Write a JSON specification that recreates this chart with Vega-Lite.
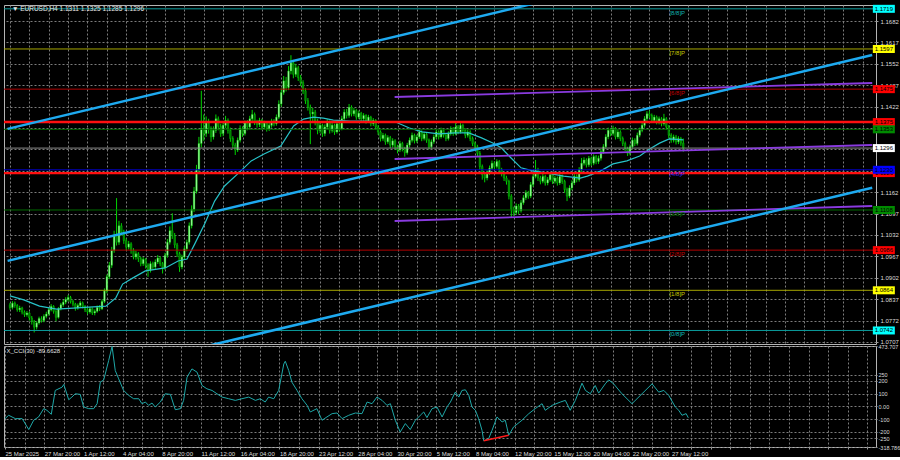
{
"$schema":"https://vega.github.io/schema/vega-lite/v6.json",
"background":"#000000",
"padding":{"left":2,"top":4,"right":0,"bottom":0},
"spacing":2,
"bounds":"flush",
"config":{
 "view":{"stroke":"#b4b4b4","strokeWidth":1},
 "font":"Liberation Sans",
 "axis":{"labelFont":"Liberation Sans","labelFontSize":6,"labelColor":"#dcdcdc","gridColor":"#7c7c7c","gridDash":[2,2],"gridWidth":1,"tickColor":"#9a9a9a","tickSize":2,"labelPadding":2,"domain":false,"labelOverlap":false,"labelBound":false,"tickCount":500}
},
"datasets":{
"candles":[
{"i":0,"o":1.0820,"h":1.0826,"l":1.0805,"c":1.0812},
{"i":1,"o":1.0812,"h":1.0831,"l":1.0806,"c":1.0825},
{"i":2,"o":1.0825,"h":1.0830,"l":1.0811,"c":1.0818},
{"i":3,"o":1.0818,"h":1.0822,"l":1.0799,"c":1.0805},
{"i":4,"o":1.0805,"h":1.0817,"l":1.0798,"c":1.0810},
{"i":5,"o":1.0810,"h":1.0814,"l":1.0791,"c":1.0798},
{"i":6,"o":1.0798,"h":1.0803,"l":1.0783,"c":1.0790},
{"i":7,"o":1.0790,"h":1.0801,"l":1.0784,"c":1.0795},
{"i":8,"o":1.0795,"h":1.0799,"l":1.0772,"c":1.0780},
{"i":9,"o":1.0780,"h":1.0786,"l":1.0760,"c":1.0770},
{"i":10,"o":1.0770,"h":1.0774,"l":1.0736,"c":1.0752},
{"i":11,"o":1.0752,"h":1.0770,"l":1.0745,"c":1.0765},
{"i":12,"o":1.0765,"h":1.0784,"l":1.0760,"c":1.0778},
{"i":13,"o":1.0778,"h":1.0785,"l":1.0766,"c":1.0772},
{"i":14,"o":1.0772,"h":1.0791,"l":1.0767,"c":1.0785},
{"i":15,"o":1.0785,"h":1.0799,"l":1.0779,"c":1.0792},
{"i":16,"o":1.0792,"h":1.0812,"l":1.0787,"c":1.0805},
{"i":17,"o":1.0805,"h":1.0822,"l":1.0800,"c":1.0815},
{"i":18,"o":1.0815,"h":1.0819,"l":1.0793,"c":1.0800},
{"i":19,"o":1.0800,"h":1.0804,"l":1.0770,"c":1.0782},
{"i":20,"o":1.0782,"h":1.0813,"l":1.0778,"c":1.0808},
{"i":21,"o":1.0808,"h":1.0826,"l":1.0803,"c":1.0820},
{"i":22,"o":1.0820,"h":1.0835,"l":1.0814,"c":1.0828},
{"i":23,"o":1.0828,"h":1.0843,"l":1.0822,"c":1.0836},
{"i":24,"o":1.0836,"h":1.0850,"l":1.0830,"c":1.0842},
{"i":25,"o":1.0842,"h":1.0847,"l":1.0824,"c":1.0830},
{"i":26,"o":1.0830,"h":1.0835,"l":1.0815,"c":1.0822},
{"i":27,"o":1.0822,"h":1.0826,"l":1.0802,"c":1.0810},
{"i":28,"o":1.0810,"h":1.0824,"l":1.0805,"c":1.0818},
{"i":29,"o":1.0818,"h":1.0832,"l":1.0813,"c":1.0826},
{"i":30,"o":1.0826,"h":1.0830,"l":1.0809,"c":1.0815},
{"i":31,"o":1.0815,"h":1.0819,"l":1.0798,"c":1.0805},
{"i":32,"o":1.0805,"h":1.0810,"l":1.0791,"c":1.0798},
{"i":33,"o":1.0798,"h":1.0814,"l":1.0793,"c":1.0808},
{"i":34,"o":1.0808,"h":1.0812,"l":1.0789,"c":1.0795},
{"i":35,"o":1.0795,"h":1.0806,"l":1.0788,"c":1.0800},
{"i":36,"o":1.0800,"h":1.0818,"l":1.0796,"c":1.0812},
{"i":37,"o":1.0812,"h":1.0819,"l":1.0801,"c":1.0808},
{"i":38,"o":1.0808,"h":1.0836,"l":1.0804,"c":1.0830},
{"i":39,"o":1.0830,"h":1.0870,"l":1.0825,"c":1.0862},
{"i":40,"o":1.0862,"h":1.0912,"l":1.0855,"c":1.0905},
{"i":41,"o":1.0905,"h":1.0950,"l":1.0898,"c":1.0940},
{"i":42,"o":1.0940,"h":1.0996,"l":1.0932,"c":1.0985},
{"i":43,"o":1.0985,"h":1.1045,"l":1.0978,"c":1.1030},
{"i":44,"o":1.1030,"h":1.1144,"l":1.1000,"c":1.1010},
{"i":45,"o":1.1010,"h":1.1075,"l":1.1002,"c":1.1060},
{"i":46,"o":1.1060,"h":1.1068,"l":1.1030,"c":1.1040},
{"i":47,"o":1.1040,"h":1.1048,"l":1.1005,"c":1.1015},
{"i":48,"o":1.1015,"h":1.1022,"l":1.0985,"c":1.0995},
{"i":49,"o":1.0995,"h":1.1014,"l":1.0988,"c":1.1005},
{"i":50,"o":1.1005,"h":1.1010,"l":1.0975,"c":1.0985},
{"i":51,"o":1.0985,"h":1.0992,"l":1.0958,"c":1.0965},
{"i":52,"o":1.0965,"h":1.0984,"l":1.0957,"c":1.0975},
{"i":53,"o":1.0975,"h":1.0980,"l":1.0950,"c":1.0960},
{"i":54,"o":1.0960,"h":1.0966,"l":1.0937,"c":1.0945},
{"i":55,"o":1.0945,"h":1.0965,"l":1.0938,"c":1.0958},
{"i":56,"o":1.0958,"h":1.0962,"l":1.0930,"c":1.0940},
{"i":57,"o":1.0940,"h":1.0946,"l":1.0905,"c":1.0925},
{"i":58,"o":1.0925,"h":1.0952,"l":1.0918,"c":1.0945},
{"i":59,"o":1.0945,"h":1.0951,"l":1.0926,"c":1.0935},
{"i":60,"o":1.0935,"h":1.0958,"l":1.0929,"c":1.0950},
{"i":61,"o":1.0950,"h":1.0971,"l":1.0944,"c":1.0962},
{"i":62,"o":1.0962,"h":1.0967,"l":1.0937,"c":1.0945},
{"i":63,"o":1.0945,"h":1.0950,"l":1.0915,"c":1.0932},
{"i":64,"o":1.0932,"h":1.0978,"l":1.0926,"c":1.0970},
{"i":65,"o":1.0970,"h":1.1020,"l":1.0963,"c":1.1010},
{"i":66,"o":1.1010,"h":1.1058,"l":1.1003,"c":1.1045},
{"i":67,"o":1.1045,"h":1.1098,"l":1.1020,"c":1.1030},
{"i":68,"o":1.1030,"h":1.1038,"l":1.0992,"c":1.1002},
{"i":69,"o":1.1002,"h":1.1008,"l":1.0965,"c":1.0975},
{"i":70,"o":1.0975,"h":1.0981,"l":1.0920,"c":1.0935},
{"i":71,"o":1.0935,"h":1.0972,"l":1.0928,"c":1.0965},
{"i":72,"o":1.0965,"h":1.0998,"l":1.0958,"c":1.0990},
{"i":73,"o":1.0990,"h":1.1018,"l":1.0982,"c":1.1010},
{"i":74,"o":1.1010,"h":1.1070,"l":1.1003,"c":1.1060},
{"i":75,"o":1.1060,"h":1.1122,"l":1.1052,"c":1.1110},
{"i":76,"o":1.1110,"h":1.1178,"l":1.1102,"c":1.1165},
{"i":77,"o":1.1165,"h":1.1245,"l":1.1158,"c":1.1230},
{"i":78,"o":1.1230,"h":1.1330,"l":1.1222,"c":1.1310},
{"i":79,"o":1.1310,"h":1.1470,"l":1.1298,"c":1.1355},
{"i":80,"o":1.1355,"h":1.1398,"l":1.1318,"c":1.1340},
{"i":81,"o":1.1340,"h":1.1392,"l":1.1330,"c":1.1372},
{"i":82,"o":1.1372,"h":1.1385,"l":1.1340,"c":1.1355},
{"i":83,"o":1.1355,"h":1.1362,"l":1.1315,"c":1.1330},
{"i":84,"o":1.1330,"h":1.1362,"l":1.1322,"c":1.1350},
{"i":85,"o":1.1350,"h":1.1398,"l":1.1342,"c":1.1385},
{"i":86,"o":1.1385,"h":1.1392,"l":1.1350,"c":1.1362},
{"i":87,"o":1.1362,"h":1.1370,"l":1.1330,"c":1.1340},
{"i":88,"o":1.1340,"h":1.1376,"l":1.1332,"c":1.1365},
{"i":89,"o":1.1365,"h":1.1394,"l":1.1356,"c":1.1380},
{"i":90,"o":1.1380,"h":1.1386,"l":1.1340,"c":1.1350},
{"i":91,"o":1.1350,"h":1.1358,"l":1.1315,"c":1.1325},
{"i":92,"o":1.1325,"h":1.1332,"l":1.1295,"c":1.1305},
{"i":93,"o":1.1305,"h":1.1312,"l":1.1275,"c":1.1290},
{"i":94,"o":1.1290,"h":1.1328,"l":1.1284,"c":1.1320},
{"i":95,"o":1.1320,"h":1.1365,"l":1.1313,"c":1.1355},
{"i":96,"o":1.1355,"h":1.1362,"l":1.1330,"c":1.1340},
{"i":97,"o":1.1340,"h":1.1380,"l":1.1334,"c":1.1372},
{"i":98,"o":1.1372,"h":1.1381,"l":1.1350,"c":1.1360},
{"i":99,"o":1.1360,"h":1.1394,"l":1.1352,"c":1.1385},
{"i":100,"o":1.1385,"h":1.1412,"l":1.1378,"c":1.1398},
{"i":101,"o":1.1398,"h":1.1404,"l":1.1366,"c":1.1375},
{"i":102,"o":1.1375,"h":1.1382,"l":1.1358,"c":1.1368},
{"i":103,"o":1.1368,"h":1.1388,"l":1.1360,"c":1.1380},
{"i":104,"o":1.1380,"h":1.1385,"l":1.1352,"c":1.1360},
{"i":105,"o":1.1360,"h":1.1379,"l":1.1354,"c":1.1372},
{"i":106,"o":1.1372,"h":1.1377,"l":1.1346,"c":1.1355},
{"i":107,"o":1.1355,"h":1.1372,"l":1.1348,"c":1.1365},
{"i":108,"o":1.1365,"h":1.1385,"l":1.1358,"c":1.1378},
{"i":109,"o":1.1378,"h":1.1384,"l":1.1362,"c":1.1370},
{"i":110,"o":1.1370,"h":1.1398,"l":1.1364,"c":1.1390},
{"i":111,"o":1.1390,"h":1.1441,"l":1.1384,"c":1.1430},
{"i":112,"o":1.1430,"h":1.1478,"l":1.1422,"c":1.1465},
{"i":113,"o":1.1465,"h":1.1515,"l":1.1458,"c":1.1500},
{"i":114,"o":1.1500,"h":1.1512,"l":1.1468,"c":1.1480},
{"i":115,"o":1.1480,"h":1.1545,"l":1.1472,"c":1.1530},
{"i":116,"o":1.1530,"h":1.1578,"l":1.1520,"c":1.1555},
{"i":117,"o":1.1555,"h":1.1564,"l":1.1508,"c":1.1520},
{"i":118,"o":1.1520,"h":1.1552,"l":1.1512,"c":1.1540},
{"i":119,"o":1.1540,"h":1.1546,"l":1.1500,"c":1.1510},
{"i":120,"o":1.1510,"h":1.1518,"l":1.1484,"c":1.1495},
{"i":121,"o":1.1495,"h":1.1502,"l":1.1460,"c":1.1470},
{"i":122,"o":1.1470,"h":1.1478,"l":1.1430,"c":1.1440},
{"i":123,"o":1.1440,"h":1.1448,"l":1.1410,"c":1.1420},
{"i":124,"o":1.1420,"h":1.1428,"l":1.1308,"c":1.1400},
{"i":125,"o":1.1400,"h":1.1418,"l":1.1375,"c":1.1405},
{"i":126,"o":1.1405,"h":1.1412,"l":1.1365,"c":1.1378},
{"i":127,"o":1.1378,"h":1.1385,"l":1.1338,"c":1.1350},
{"i":128,"o":1.1350,"h":1.1375,"l":1.1342,"c":1.1365},
{"i":129,"o":1.1365,"h":1.1370,"l":1.1330,"c":1.1340},
{"i":130,"o":1.1340,"h":1.1368,"l":1.1332,"c":1.1360},
{"i":131,"o":1.1360,"h":1.1384,"l":1.1352,"c":1.1375},
{"i":132,"o":1.1375,"h":1.1380,"l":1.1340,"c":1.1350},
{"i":133,"o":1.1350,"h":1.1374,"l":1.1343,"c":1.1365},
{"i":134,"o":1.1365,"h":1.1370,"l":1.1336,"c":1.1345},
{"i":135,"o":1.1345,"h":1.1378,"l":1.1340,"c":1.1370},
{"i":136,"o":1.1370,"h":1.1376,"l":1.1346,"c":1.1355},
{"i":137,"o":1.1355,"h":1.1394,"l":1.1350,"c":1.1385},
{"i":138,"o":1.1385,"h":1.1414,"l":1.1378,"c":1.1405},
{"i":139,"o":1.1405,"h":1.1415,"l":1.1386,"c":1.1395},
{"i":140,"o":1.1395,"h":1.1430,"l":1.1388,"c":1.1420},
{"i":141,"o":1.1420,"h":1.1426,"l":1.1392,"c":1.1400},
{"i":142,"o":1.1400,"h":1.1418,"l":1.1393,"c":1.1410},
{"i":143,"o":1.1410,"h":1.1415,"l":1.1382,"c":1.1390},
{"i":144,"o":1.1390,"h":1.1410,"l":1.1384,"c":1.1402},
{"i":145,"o":1.1402,"h":1.1406,"l":1.1377,"c":1.1385},
{"i":146,"o":1.1385,"h":1.1402,"l":1.1378,"c":1.1395},
{"i":147,"o":1.1395,"h":1.1399,"l":1.1370,"c":1.1378},
{"i":148,"o":1.1378,"h":1.1397,"l":1.1372,"c":1.1390},
{"i":149,"o":1.1390,"h":1.1394,"l":1.1362,"c":1.1370},
{"i":150,"o":1.1370,"h":1.1387,"l":1.1363,"c":1.1380},
{"i":151,"o":1.1380,"h":1.1384,"l":1.1352,"c":1.1360},
{"i":152,"o":1.1360,"h":1.1366,"l":1.1336,"c":1.1345},
{"i":153,"o":1.1345,"h":1.1350,"l":1.1316,"c":1.1325},
{"i":154,"o":1.1325,"h":1.1342,"l":1.1318,"c":1.1335},
{"i":155,"o":1.1335,"h":1.1340,"l":1.1306,"c":1.1315},
{"i":156,"o":1.1315,"h":1.1335,"l":1.1309,"c":1.1328},
{"i":157,"o":1.1328,"h":1.1333,"l":1.1296,"c":1.1305},
{"i":158,"o":1.1305,"h":1.1326,"l":1.1298,"c":1.1318},
{"i":159,"o":1.1318,"h":1.1323,"l":1.1291,"c":1.1300},
{"i":160,"o":1.1300,"h":1.1306,"l":1.1280,"c":1.1290},
{"i":161,"o":1.1290,"h":1.1318,"l":1.1284,"c":1.1310},
{"i":162,"o":1.1310,"h":1.1315,"l":1.1286,"c":1.1295},
{"i":163,"o":1.1295,"h":1.1300,"l":1.1270,"c":1.1282},
{"i":164,"o":1.1282,"h":1.1312,"l":1.1276,"c":1.1305},
{"i":165,"o":1.1305,"h":1.1328,"l":1.1298,"c":1.1320},
{"i":166,"o":1.1320,"h":1.1343,"l":1.1313,"c":1.1335},
{"i":167,"o":1.1335,"h":1.1340,"l":1.1310,"c":1.1318},
{"i":168,"o":1.1318,"h":1.1337,"l":1.1312,"c":1.1330},
{"i":169,"o":1.1330,"h":1.1353,"l":1.1324,"c":1.1345},
{"i":170,"o":1.1345,"h":1.1350,"l":1.1317,"c":1.1325},
{"i":171,"o":1.1325,"h":1.1345,"l":1.1319,"c":1.1338},
{"i":172,"o":1.1338,"h":1.1343,"l":1.1312,"c":1.1320},
{"i":173,"o":1.1320,"h":1.1325,"l":1.1292,"c":1.1300},
{"i":174,"o":1.1300,"h":1.1322,"l":1.1294,"c":1.1315},
{"i":175,"o":1.1315,"h":1.1337,"l":1.1309,"c":1.1330},
{"i":176,"o":1.1330,"h":1.1352,"l":1.1324,"c":1.1345},
{"i":177,"o":1.1345,"h":1.1350,"l":1.1322,"c":1.1330},
{"i":178,"o":1.1330,"h":1.1358,"l":1.1325,"c":1.1350},
{"i":179,"o":1.1350,"h":1.1355,"l":1.1328,"c":1.1335},
{"i":180,"o":1.1335,"h":1.1340,"l":1.1317,"c":1.1325},
{"i":181,"o":1.1325,"h":1.1347,"l":1.1319,"c":1.1340},
{"i":182,"o":1.1340,"h":1.1362,"l":1.1334,"c":1.1355},
{"i":183,"o":1.1355,"h":1.1360,"l":1.1333,"c":1.1340},
{"i":184,"o":1.1340,"h":1.1372,"l":1.1335,"c":1.1360},
{"i":185,"o":1.1360,"h":1.1366,"l":1.1338,"c":1.1345},
{"i":186,"o":1.1345,"h":1.1372,"l":1.1340,"c":1.1365},
{"i":187,"o":1.1365,"h":1.1370,"l":1.1342,"c":1.1350},
{"i":188,"o":1.1350,"h":1.1356,"l":1.1326,"c":1.1335},
{"i":189,"o":1.1335,"h":1.1352,"l":1.1328,"c":1.1345},
{"i":190,"o":1.1345,"h":1.1350,"l":1.1317,"c":1.1325},
{"i":191,"o":1.1325,"h":1.1331,"l":1.1302,"c":1.1310},
{"i":192,"o":1.1310,"h":1.1316,"l":1.1290,"c":1.1300},
{"i":193,"o":1.1300,"h":1.1306,"l":1.1270,"c":1.1280},
{"i":194,"o":1.1280,"h":1.1287,"l":1.1230,"c":1.1240},
{"i":195,"o":1.1240,"h":1.1246,"l":1.1200,"c":1.1215},
{"i":196,"o":1.1215,"h":1.1222,"l":1.1192,"c":1.1205},
{"i":197,"o":1.1205,"h":1.1228,"l":1.1198,"c":1.1220},
{"i":198,"o":1.1220,"h":1.1243,"l":1.1214,"c":1.1235},
{"i":199,"o":1.1235,"h":1.1258,"l":1.1229,"c":1.1250},
{"i":200,"o":1.1250,"h":1.1256,"l":1.1232,"c":1.1240},
{"i":201,"o":1.1240,"h":1.1262,"l":1.1234,"c":1.1255},
{"i":202,"o":1.1255,"h":1.1260,"l":1.1222,"c":1.1230},
{"i":203,"o":1.1230,"h":1.1236,"l":1.1210,"c":1.1218},
{"i":204,"o":1.1218,"h":1.1224,"l":1.1196,"c":1.1205},
{"i":205,"o":1.1205,"h":1.1212,"l":1.1185,"c":1.1195},
{"i":206,"o":1.1195,"h":1.1200,"l":1.1140,"c":1.1150},
{"i":207,"o":1.1150,"h":1.1156,"l":1.1085,"c":1.1110},
{"i":208,"o":1.1110,"h":1.1118,"l":1.1090,"c":1.1100},
{"i":209,"o":1.1100,"h":1.1128,"l":1.1094,"c":1.1120},
{"i":210,"o":1.1120,"h":1.1126,"l":1.1096,"c":1.1105},
{"i":211,"o":1.1105,"h":1.1138,"l":1.1100,"c":1.1130},
{"i":212,"o":1.1130,"h":1.1153,"l":1.1124,"c":1.1145},
{"i":213,"o":1.1145,"h":1.1168,"l":1.1138,"c":1.1160},
{"i":214,"o":1.1160,"h":1.1166,"l":1.1142,"c":1.1150},
{"i":215,"o":1.1150,"h":1.1193,"l":1.1144,"c":1.1185},
{"i":216,"o":1.1185,"h":1.1220,"l":1.1178,"c":1.1210},
{"i":217,"o":1.1210,"h":1.1260,"l":1.1204,"c":1.1230},
{"i":218,"o":1.1230,"h":1.1236,"l":1.1196,"c":1.1205},
{"i":219,"o":1.1205,"h":1.1212,"l":1.1186,"c":1.1195},
{"i":220,"o":1.1195,"h":1.1218,"l":1.1189,"c":1.1210},
{"i":221,"o":1.1210,"h":1.1215,"l":1.1182,"c":1.1190},
{"i":222,"o":1.1190,"h":1.1208,"l":1.1183,"c":1.1200},
{"i":223,"o":1.1200,"h":1.1222,"l":1.1194,"c":1.1215},
{"i":224,"o":1.1215,"h":1.1220,"l":1.1187,"c":1.1195},
{"i":225,"o":1.1195,"h":1.1212,"l":1.1188,"c":1.1205},
{"i":226,"o":1.1205,"h":1.1210,"l":1.1182,"c":1.1190},
{"i":227,"o":1.1190,"h":1.1218,"l":1.1184,"c":1.1210},
{"i":228,"o":1.1210,"h":1.1216,"l":1.1187,"c":1.1195},
{"i":229,"o":1.1195,"h":1.1200,"l":1.1160,"c":1.1170},
{"i":230,"o":1.1170,"h":1.1176,"l":1.1135,"c":1.1150},
{"i":231,"o":1.1150,"h":1.1183,"l":1.1144,"c":1.1175},
{"i":232,"o":1.1175,"h":1.1198,"l":1.1168,"c":1.1190},
{"i":233,"o":1.1190,"h":1.1218,"l":1.1184,"c":1.1210},
{"i":234,"o":1.1210,"h":1.1216,"l":1.1192,"c":1.1200},
{"i":235,"o":1.1200,"h":1.1238,"l":1.1194,"c":1.1230},
{"i":236,"o":1.1230,"h":1.1266,"l":1.1224,"c":1.1250},
{"i":237,"o":1.1250,"h":1.1268,"l":1.1243,"c":1.1260},
{"i":238,"o":1.1260,"h":1.1265,"l":1.1237,"c":1.1245},
{"i":239,"o":1.1245,"h":1.1272,"l":1.1239,"c":1.1265},
{"i":240,"o":1.1265,"h":1.1270,"l":1.1242,"c":1.1250},
{"i":241,"o":1.1250,"h":1.1277,"l":1.1244,"c":1.1270},
{"i":242,"o":1.1270,"h":1.1275,"l":1.1247,"c":1.1255},
{"i":243,"o":1.1255,"h":1.1273,"l":1.1248,"c":1.1265},
{"i":244,"o":1.1265,"h":1.1293,"l":1.1258,"c":1.1285},
{"i":245,"o":1.1285,"h":1.1308,"l":1.1278,"c":1.1300},
{"i":246,"o":1.1300,"h":1.1338,"l":1.1294,"c":1.1330},
{"i":247,"o":1.1330,"h":1.1358,"l":1.1323,"c":1.1350},
{"i":248,"o":1.1350,"h":1.1357,"l":1.1332,"c":1.1340},
{"i":249,"o":1.1340,"h":1.1364,"l":1.1334,"c":1.1355},
{"i":250,"o":1.1355,"h":1.1360,"l":1.1322,"c":1.1330},
{"i":251,"o":1.1330,"h":1.1352,"l":1.1324,"c":1.1345},
{"i":252,"o":1.1345,"h":1.1350,"l":1.1317,"c":1.1325},
{"i":253,"o":1.1325,"h":1.1331,"l":1.1302,"c":1.1310},
{"i":254,"o":1.1310,"h":1.1316,"l":1.1287,"c":1.1295},
{"i":255,"o":1.1295,"h":1.1300,"l":1.1272,"c":1.1280},
{"i":256,"o":1.1280,"h":1.1307,"l":1.1274,"c":1.1300},
{"i":257,"o":1.1300,"h":1.1328,"l":1.1294,"c":1.1320},
{"i":258,"o":1.1320,"h":1.1326,"l":1.1302,"c":1.1310},
{"i":259,"o":1.1310,"h":1.1343,"l":1.1304,"c":1.1335},
{"i":260,"o":1.1335,"h":1.1358,"l":1.1329,"c":1.1350},
{"i":261,"o":1.1350,"h":1.1373,"l":1.1344,"c":1.1365},
{"i":262,"o":1.1365,"h":1.1393,"l":1.1358,"c":1.1385},
{"i":263,"o":1.1385,"h":1.1408,"l":1.1378,"c":1.1400},
{"i":264,"o":1.1400,"h":1.1410,"l":1.1387,"c":1.1395},
{"i":265,"o":1.1395,"h":1.1401,"l":1.1372,"c":1.1380},
{"i":266,"o":1.1380,"h":1.1397,"l":1.1373,"c":1.1390},
{"i":267,"o":1.1390,"h":1.1395,"l":1.1368,"c":1.1375},
{"i":268,"o":1.1375,"h":1.1392,"l":1.1368,"c":1.1385},
{"i":269,"o":1.1385,"h":1.1390,"l":1.1362,"c":1.1370},
{"i":270,"o":1.1370,"h":1.1400,"l":1.1364,"c":1.1385},
{"i":271,"o":1.1385,"h":1.1390,"l":1.1352,"c":1.1360},
{"i":272,"o":1.1360,"h":1.1366,"l":1.1326,"c":1.1335},
{"i":273,"o":1.1335,"h":1.1341,"l":1.1312,"c":1.1320},
{"i":274,"o":1.1320,"h":1.1337,"l":1.1313,"c":1.1330},
{"i":275,"o":1.1330,"h":1.1336,"l":1.1307,"c":1.1315},
{"i":276,"o":1.1315,"h":1.1332,"l":1.1308,"c":1.1325},
{"i":277,"o":1.1325,"h":1.1330,"l":1.1303,"c":1.1311},
{"i":278,"o":1.1311,"h":1.1325,"l":1.1285,"c":1.1296}
],
"ma":[
{"i":0,"v":1.0847},{"i":5.7,"v":1.0835},{"i":12.2,"v":1.0816},{"i":19.2,"v":1.0807},{"i":26.1,"v":1.0810},{"i":32.7,"v":1.0813},{"i":39.6,"v":1.0816},{"i":43.7,"v":1.0841},{"i":46.5,"v":1.0883},{"i":50.6,"v":1.0901},{"i":55.9,"v":1.0923},{"i":64.1,"v":1.0932},{"i":69.4,"v":1.0953},{"i":73.1,"v":1.0959},{"i":76.3,"v":1.1005},{"i":80.4,"v":1.1066},{"i":84.5,"v":1.1135},{"i":88.6,"v":1.1181},{"i":93.9,"v":1.1217},{"i":99.6,"v":1.1257},{"i":104.9,"v":1.1278},{"i":111.8,"v":1.1302},{"i":117.1,"v":1.1363},{"i":121.2,"v":1.1384},{"i":125.3,"v":1.1390},{"i":129.4,"v":1.1387},{"i":133.5,"v":1.1381},{"i":140.4,"v":1.1378},{"i":146.9,"v":1.1378},{"i":153.9,"v":1.1375},{"i":159.2,"v":1.1375},{"i":164.9,"v":1.1357},{"i":170.2,"v":1.1345},{"i":177.1,"v":1.1339},{"i":183.7,"v":1.1342},{"i":189.4,"v":1.1342},{"i":194.7,"v":1.1327},{"i":200,"v":1.1309},{"i":202.9,"v":1.1296},{"i":206.9,"v":1.1266},{"i":211,"v":1.1236},{"i":216.3,"v":1.1226},{"i":222,"v":1.1220},{"i":228.6,"v":1.1211},{"i":235.5,"v":1.1205},{"i":238.4,"v":1.1211},{"i":243.7,"v":1.1226},{"i":249,"v":1.1248},{"i":254.7,"v":1.1257},{"i":260,"v":1.1272},{"i":264.1,"v":1.1293},{"i":268.2,"v":1.1311},{"i":272.2,"v":1.1324},{"i":278,"v":1.1321}
],
"cci":[
{"i":0,"v":-96},{"i":1.5,"v":-70},{"i":4.2,"v":-96},{"i":7,"v":-96},{"i":9.7,"v":-182},{"i":11.7,"v":-109},{"i":13.7,"v":-83},{"i":15.8,"v":-18},{"i":17.1,"v":-31},{"i":18.9,"v":-62},{"i":20.5,"v":125},{"i":23.3,"v":151},{"i":24,"v":172},{"i":26,"v":52},{"i":27.3,"v":73},{"i":28.7,"v":99},{"i":30.7,"v":94},{"i":32.1,"v":-5},{"i":34.2,"v":-18},{"i":36.2,"v":-18},{"i":37.6,"v":21},{"i":38.9,"v":190},{"i":40.3,"v":208},{"i":42.3,"v":359},{"i":43.7,"v":470},{"i":45,"v":281},{"i":46.4,"v":216},{"i":48.4,"v":125},{"i":50.5,"v":86},{"i":52.5,"v":60},{"i":54.6,"v":60},{"i":55.9,"v":21},{"i":57.3,"v":34},{"i":58.6,"v":8},{"i":60,"v":26},{"i":61.3,"v":-5},{"i":63.4,"v":34},{"i":65.4,"v":99},{"i":67.5,"v":94},{"i":69.5,"v":-26},{"i":71.6,"v":-18},{"i":72.9,"v":47},{"i":74.3,"v":229},{"i":76.3,"v":294},{"i":78.4,"v":268},{"i":80.4,"v":164},{"i":82.4,"v":138},{"i":84.5,"v":125},{"i":86.5,"v":99},{"i":88.6,"v":73},{"i":91.3,"v":60},{"i":94,"v":47},{"i":96.7,"v":60},{"i":99.5,"v":73},{"i":102.2,"v":47},{"i":104.2,"v":60},{"i":106.2,"v":34},{"i":107.6,"v":73},{"i":109.7,"v":60},{"i":111.7,"v":125},{"i":113.8,"v":333},{"i":114.4,"v":354},{"i":115.8,"v":281},{"i":117.1,"v":190},{"i":119.2,"v":125},{"i":121.2,"v":60},{"i":123.3,"v":8},{"i":124.6,"v":-44},{"i":127.3,"v":-18},{"i":129.4,"v":-109},{"i":131.4,"v":-83},{"i":133.5,"v":-57},{"i":135.5,"v":-52},{"i":137.6,"v":-96},{"i":140.3,"v":-70},{"i":143,"v":-52},{"i":145.7,"v":-57},{"i":147.8,"v":34},{"i":149.8,"v":21},{"i":151.8,"v":73},{"i":153.9,"v":47},{"i":155.9,"v":8},{"i":157.3,"v":21},{"i":159.3,"v":-109},{"i":161.3,"v":-201},{"i":163.4,"v":-135},{"i":165.4,"v":-182},{"i":167.5,"v":-109},{"i":169.5,"v":-70},{"i":170.9,"v":-44},{"i":172.2,"v":-88},{"i":174.3,"v":-18},{"i":176.3,"v":-5},{"i":178.4,"v":-83},{"i":180.4,"v":-5},{"i":181.8,"v":34},{"i":183.8,"v":112},{"i":185.2,"v":73},{"i":186.5,"v":125},{"i":187.9,"v":130},{"i":189.3,"v":86},{"i":190.6,"v":-5},{"i":192,"v":-31},{"i":193.3,"v":-96},{"i":194.7,"v":-188},{"i":195.4,"v":-270},{"i":197.4,"v":-253},{"i":198.8,"v":-188},{"i":200.8,"v":-83},{"i":202.9,"v":-122},{"i":204.2,"v":-109},{"i":205.6,"v":-227},{"i":207.6,"v":-161},{"i":211,"v":-109},{"i":213.8,"v":-57},{"i":216.4,"v":-18},{"i":219.2,"v":21},{"i":220.5,"v":-31},{"i":223.3,"v":8},{"i":226.7,"v":34},{"i":228.7,"v":47},{"i":230.7,"v":-31},{"i":232.8,"v":47},{"i":235.5,"v":182},{"i":236.9,"v":125},{"i":238.9,"v":99},{"i":240.9,"v":164},{"i":242.3,"v":104},{"i":245,"v":177},{"i":246.4,"v":208},{"i":248.4,"v":177},{"i":251.8,"v":99},{"i":255.9,"v":21},{"i":260,"v":99},{"i":264.1,"v":177},{"i":266.8,"v":112},{"i":268.9,"v":125},{"i":270.9,"v":86},{"i":273.6,"v":-5},{"i":275,"v":-31},{"i":276.3,"v":-70},{"i":278,"v":-57},{"i":278.9,"v":-89.66}
],
"levels":[
{"lvl":"[8/8]P","p":1.1719},{"lvl":"[7/8]P","p":1.1597},{"lvl":"[6/8]P","p":1.1475},{"lvl":"[5/8]P","p":1.1353},{"lvl":"[4/8]P","p":1.1230},{"lvl":"[3/8]P","p":1.1108},{"lvl":"[2/8]P","p":1.0986},{"lvl":"[1/8]P","p":1.0864},{"lvl":"[0/8]P","p":1.0742}
],
"sr":[{"p":1.1375},{"p":1.1220}],
"bid":[{"p":1.1296}],
"channel":[
{"g":"u","i":-1,"p":1.13544},{"g":"u","i":356,"p":1.19798},
{"g":"m","i":-1,"p":1.09534},{"g":"m","i":356,"p":1.15788},
{"g":"d","i":-1,"p":1.05504},{"g":"d","i":356,"p":1.11757}
],
"purple":[
{"g":"a","i":158.8,"p":1.14512},{"g":"a","i":356,"p":1.14937},
{"g":"b","i":158.8,"p":1.12628},{"g":"b","i":356,"p":1.13054},
{"g":"c","i":158.8,"p":1.10745},{"g":"c","i":356,"p":1.11201}
]
},
"vconcat":[
{
 "width":872,"height":339,
 "resolve":{"scale":{"stroke":"independent","fill":"independent"}},
 "layer":[
  {"data":{"name":"candles"},"mark":{"type":"rule","stroke":"#00D200","strokeWidth":1},
   "encoding":{
    "x":{"field":"i","type":"quantitative","scale":{"domain":[-0.41,355.5],"nice":false,"zero":false},
         "axis":{"values":[0,8,16,24,32,40,48,56,64,72,80,88,96,104,112,120,128,136,144,152,160,168,176,184,192,200,208,216,224,232,240,248,256,264,272,280,288,296,304,312,320,328,336,344,352],"tickCount":500,"labels":false,"ticks":false,"grid":true,"title":null,"labelOverlap":false}},
    "y":{"field":"l","type":"quantitative","scale":{"domain":[1.07009,1.17306],"nice":false,"zero":false},
         "axis":{"orient":"right","values":[1.0707,1.0772,1.0837,1.0902,1.0967,1.1032,1.1097,1.1162,1.1227,1.1292,1.1357,1.1422,1.1487,1.1552,1.1617,1.1682],"tickCount":500,"grid":true,"title":null,"labelOverlap":false,
          "labelExpr":"(abs(datum.value - 1.1227) < 0.00001 || abs(datum.value - 1.1292) < 0.00001 || abs(datum.value - 1.1357) < 0.00001) ? '' : format(datum.value, '.4f')"}},
    "y2":{"field":"h"}}},
  {"data":{"name":"candles"},"mark":{"type":"bar","width":1.6,"stroke":"#00D200","strokeWidth":0.4},
   "encoding":{
    "x":{"field":"i","type":"quantitative"},
    "y":{"field":"o","type":"quantitative"},
    "y2":{"field":"c"},
    "color":{"condition":{"test":"datum.c >= datum.o","value":"#A6FFA6"},"value":"#007A00"}}},
  {"data":{"name":"ma"},"mark":{"type":"line","stroke":"#27C2C8","strokeWidth":1.2},
   "encoding":{"x":{"field":"i","type":"quantitative"},"y":{"field":"v","type":"quantitative"}}},
  {"data":{"name":"levels"},"mark":{"type":"rule","strokeWidth":1},
   "encoding":{"y":{"field":"p","type":"quantitative"},
    "stroke":{"field":"lvl","type":"nominal","legend":null,"scale":{"domain":["[8/8]P","[7/8]P","[6/8]P","[5/8]P","[4/8]P","[3/8]P","[2/8]P","[1/8]P","[0/8]P"],"range":["#0B9C9C","#A6A600","#B00000","#006A00","#0000C8","#006A00","#B00000","#A6A600","#0B9C9C"]}}}},
  {"data":{"name":"sr"},"mark":{"type":"rule","stroke":"#FF1010","strokeWidth":2.4},
   "encoding":{"y":{"field":"p","type":"quantitative"}}},
  {"data":{"name":"bid"},"mark":{"type":"rule","stroke":"#8c8c8c","strokeWidth":1},
   "encoding":{"y":{"field":"p","type":"quantitative"}}},
  {"data":{"name":"purple"},"mark":{"type":"line","stroke":"#8A3BE0","strokeWidth":1.8,"clip":true},
   "encoding":{"x":{"field":"i","type":"quantitative"},"y":{"field":"p","type":"quantitative"},"detail":{"field":"g"}}},
  {"data":{"name":"channel"},"mark":{"type":"line","stroke":"#1EAAF0","strokeWidth":2.5,"clip":true},
   "encoding":{"x":{"field":"i","type":"quantitative"},"y":{"field":"p","type":"quantitative"},"detail":{"field":"g"}}},
  {"data":{"name":"levels"},"transform":[{"filter":"datum.lvl != '[5/8]P'"}],
   "mark":{"type":"text","align":"center","baseline":"top","dy":1,"fontSize":6,"font":"Liberation Sans"},
   "encoding":{"x":{"datum":275.5,"type":"quantitative"},"y":{"field":"p","type":"quantitative"},"text":{"field":"lvl"},
    "fill":{"field":"lvl","type":"nominal","legend":null,"scale":{"domain":["[8/8]P","[7/8]P","[6/8]P","[5/8]P","[4/8]P","[3/8]P","[2/8]P","[1/8]P","[0/8]P"],"range":["#10B0B0","#C8C800","#C00000","#008000","#2828FF","#008000","#C00000","#C8C800","#10B8B8"]}}}},
  {"data":{"name":"sr"},"mark":{"type":"tick","orient":"horizontal","size":22,"thickness":8,"color":"#FF0000","opacity":1},
   "encoding":{"x":{"datum":360.8,"type":"quantitative"},"y":{"field":"p","type":"quantitative"}}},
  {"data":{"name":"sr"},"mark":{"type":"text","align":"center","baseline":"middle","fontSize":6,"fill":"#000000"},
   "encoding":{"x":{"datum":360.8,"type":"quantitative"},"y":{"field":"p","type":"quantitative"},"text":{"field":"p","type":"quantitative","format":".4f"}}},
  {"data":{"name":"bid"},"mark":{"type":"tick","orient":"horizontal","size":22,"thickness":8,"color":"#FFFFFF","opacity":1},
   "encoding":{"x":{"datum":360.8,"type":"quantitative"},"y":{"field":"p","type":"quantitative"}}},
  {"data":{"name":"bid"},"mark":{"type":"text","align":"center","baseline":"middle","fontSize":6,"fill":"#000000"},
   "encoding":{"x":{"datum":360.8,"type":"quantitative"},"y":{"field":"p","type":"quantitative"},"text":{"field":"p","type":"quantitative","format":".4f"}}},
  {"data":{"name":"levels"},"mark":{"type":"tick","orient":"horizontal","size":22,"thickness":8,"opacity":1},
   "encoding":{"x":{"datum":360.8,"type":"quantitative"},"y":{"field":"p","type":"quantitative"},
    "fill":{"field":"lvl","type":"nominal","legend":null,"scale":{"domain":["[8/8]P","[7/8]P","[6/8]P","[5/8]P","[4/8]P","[3/8]P","[2/8]P","[1/8]P","[0/8]P"],"range":["#00FFFF","#FFFF00","#FF0000","#008A00","#0000FF","#008A00","#FF0000","#FFFF00","#00FFFF"]}}}},
  {"data":{"name":"levels"},"mark":{"type":"text","align":"center","baseline":"middle","fontSize":6,"fill":"#000000"},
   "encoding":{"x":{"datum":360.8,"type":"quantitative"},"y":{"field":"p","type":"quantitative"},"text":{"field":"p","type":"quantitative","format":".4f"}}},
  {"data":{"values":[{"t":"▼  EURUSD,H4  1.1311 1.1325 1.1285 1.1296"}]},
   "mark":{"type":"text","align":"left","baseline":"top","fontSize":6.5,"fill":"#e8e8e8","dy":1},
   "encoding":{"x":{"datum":0.8,"type":"quantitative"},"y":{"datum":1.17306,"type":"quantitative"},"text":{"field":"t"}}}
 ]
},
{
 "width":872,"height":101,
 "layer":[
  {"data":{"name":"cci"},"mark":{"type":"line","stroke":"#1FA8A8","strokeWidth":1},
   "encoding":{
    "x":{"field":"i","type":"quantitative","scale":{"domain":[-0.41,355.5],"nice":false,"zero":false},
     "axis":{"values":[0,8,16,24,32,40,48,56,64,72,80,88,96,104,112,120,128,136,144,152,160,168,176,184,192,200,208,216,224,232,240,248,256,264,272,280,288,296,304,312,320,328,336,344,352],"tickCount":500,"grid":true,"title":null,"labelAlign":"left","labelOverlap":false,"labelBound":false,"labelFlush":false,"labelPadding":1,
      "labelExpr":"(datum.value % 16 == 0 && datum.value <= 272) ? ['25 Mar 2025','27 Mar 20:00','1 Apr 12:00','4 Apr 04:00','8 Apr 20:00','11 Apr 12:00','16 Apr 04:00','18 Apr 20:00','23 Apr 12:00','28 Apr 04:00','30 Apr 20:00','5 May 12:00','8 May 04:00','12 May 20:00','15 May 12:00','20 May 04:00','22 May 20:00','27 May 12:00'][datum.value / 16] : ''"}},
    "y":{"field":"v","type":"quantitative","scale":{"domain":[-318.786,473.707],"nice":false,"zero":false},
     "axis":{"orient":"right","values":[473.707,250,200,100,0,-100,-200,-250,-318.786],"tickCount":500,"grid":true,"title":null,"labelOverlap":false,"tickSize":1,"labelPadding":1,"labelFontSize":5.5,
      "labelExpr":"datum.value == 0 ? '0.00' : '' + datum.value"}}}},
  {"data":{"values":[{"i":195.4,"v":-270},{"i":205.6,"v":-227}]},"mark":{"type":"line","stroke":"#FF1A1A","strokeWidth":1.5},
   "encoding":{"x":{"field":"i","type":"quantitative"},"y":{"field":"v","type":"quantitative"}}},
  {"data":{"values":[{"t":"X_CCI(30) -89.6628"}]},"mark":{"type":"text","align":"left","baseline":"middle","fontSize":6,"fill":"#e0e0e0"},
   "encoding":{"x":{"datum":0.6,"type":"quantitative"},"y":{"datum":435,"type":"quantitative"},"text":{"field":"t"}}}
 ]
}
]
}
